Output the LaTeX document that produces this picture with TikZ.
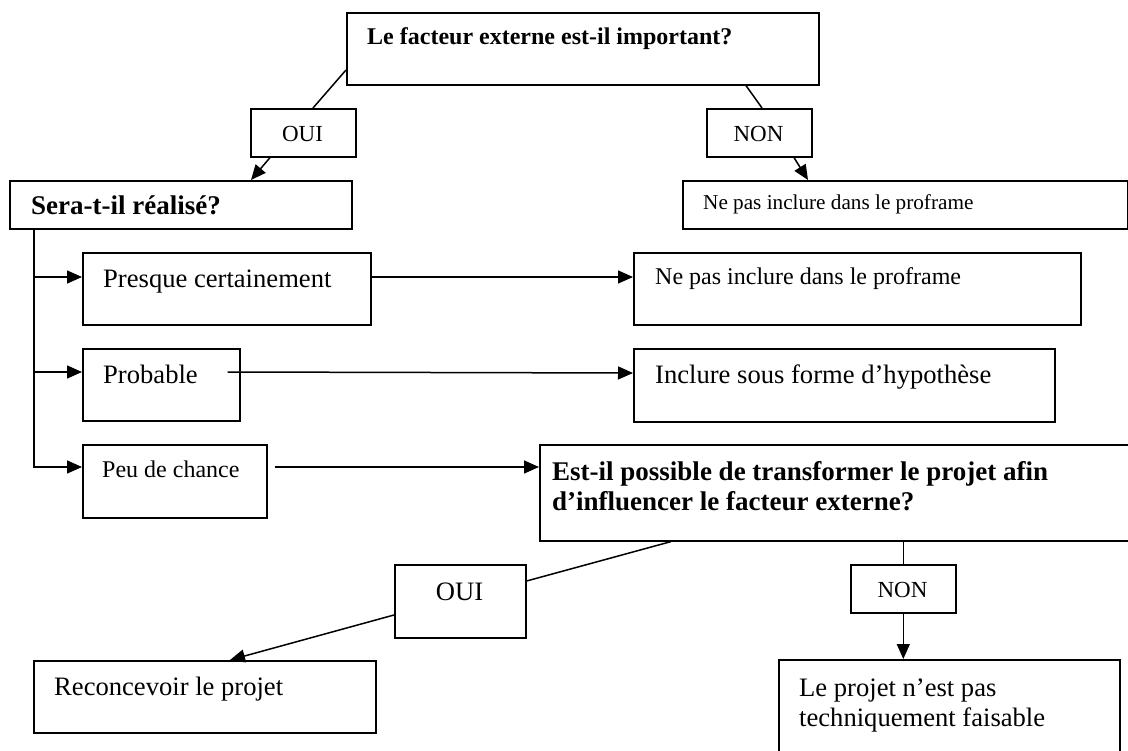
\documentclass[tikz,border=0pt]{standalone}
\usepackage{fontspec}
\setmainfont{Liberation Serif}
\usetikzlibrary{arrows.meta,calc}
\begin{document}
\begin{tikzpicture}[x=1pt,y=-1pt,
  box/.style={draw=black,line width=1.6pt,rectangle,inner sep=0pt,anchor=north west},
  txt/.style={inner sep=0pt,anchor=base west,align=left},
  ctr/.style={inner sep=0pt,anchor=base},
  conn/.style={line width=1.5pt},
  arr/.style={line width=1.5pt,-{Triangle[length=15pt,width=13pt]}},
  big/.style={font=\fontsize{26.6}{30}\selectfont},
  med/.style={font=\fontsize{24}{28}\selectfont},
  sml/.style={font=\fontsize{21.2}{25}\selectfont},
  lab/.style={font=\fontsize{23}{27}\selectfont},
  hb/.style={font=\fontsize{27}{30}\selectfont\bfseries},
  hs/.style={font=\fontsize{24}{28}\selectfont\bfseries}]
\useasboundingbox (0,0) rectangle (1128,751);
\clip (0,0) rectangle (1128,751);
% boxes
\node[box,minimum width=472pt,minimum height=72pt] (top) at (346,12) {};
\node[box,minimum width=105pt,minimum height=48pt] (oui1) at (250,108) {};
\node[box,minimum width=105pt,minimum height=48pt] (non1) at (706,108) {};
\node[box,minimum width=342pt,minimum height=48pt] (sera) at (9,180) {};
\node[box,minimum width=445pt,minimum height=48pt] (np1) at (682,180) {};
\node[box,minimum width=288pt,minimum height=72pt] (pc) at (82,252) {};
\node[box,minimum width=447pt,minimum height=72pt] (np2) at (633,252) {};
\node[box,minimum width=157pt,minimum height=72pt] (prob) at (82,348) {};
\node[box,minimum width=421pt,minimum height=73pt] (inc) at (633,348) {};
\node[box,minimum width=184pt,minimum height=73pt] (peu) at (82,444) {};
\node[box,minimum width=610pt,minimum height=96pt] (est) at (539,444) {};
\node[box,minimum width=131pt,minimum height=73pt] (oui2) at (394,564) {};
\node[box,minimum width=105pt,minimum height=48pt] (non2) at (850,564) {};
\node[box,minimum width=342pt,minimum height=72pt] (rec) at (33,660) {};
\node[box,minimum width=341pt,minimum height=120pt] (proj) at (778,659) {};
% texts
\node[txt,hs] (ttop) at (367,45) {Le facteur externe est-il important?};
\node[ctr,lab] (toui1) at (302.5,142) {OUI};
\node[ctr,lab] (tnon1) at (758.5,142) {NON};
\node[txt,hb] (tsera) at (31,215) {Sera-t-il réalisé?};
\node[txt,sml] (tnp1) at (703,210) {Ne pas inclure dans le proframe};
\node[txt,big] (tpc) at (103,288) {Presque certainement};
\node[txt,med] (tnp2) at (655,285) {Ne pas inclure dans le proframe};
\node[txt,big] (tprob) at (103,384) {Probable};
\node[txt,big] (tinc) at (655,384) {Inclure sous forme d’hypothèse};
\node[txt,med] (tpeu) at (102,477) {Peu de chance};
\node[txt,hb] (test) at (552,510) {Est-il possible de transformer le projet afin\\d’influencer le facteur externe?};
\node[ctr,big] (toui2) at (459.5,600) {OUI};
\node[ctr,lab] (tnon2) at (902.5,597) {NON};
\node[txt,big] (trec) at (54,695) {Reconcevoir le projet};
\node[txt,big] (tproj) at (799,726) {Le projet n’est pas\\techniquement faisable};
% connectors: top decision
\draw[conn] ([yshift=-58pt]top.north west) -- ([xshift=63pt]oui1.north west);
\draw[arr] ([xshift=20pt]oui1.south west) -- ([xshift=242pt]sera.north west);
\draw[conn] ([xshift=400pt]top.south west) -- ([xshift=56pt]non1.north west);
\draw[arr] ([xshift=88pt]non1.south west) -- ([xshift=126pt]np1.north west);
% trunk and branches
\coordinate (trunk) at ([xshift=25pt]sera.south west);
\coordinate (pcin) at ([yshift=-25pt]pc.north west);
\coordinate (probin) at ([yshift=-24pt]prob.north west);
\coordinate (peuin) at ([yshift=-23pt]peu.north west);
\draw[arr] (trunk) |- (peuin);
\draw[arr] (trunk |- pcin) -- (pcin);
\draw[arr] (trunk |- probin) -- (probin);
% horizontal outcomes
\draw[arr] ([yshift=-25pt]pc.north east) -- ([yshift=-25pt]np2.north west);
\draw[arr] ([xshift=-13pt,yshift=-24pt]prob.north east) -- ([yshift=-25pt]inc.north west);
\draw[arr] ([xshift=7pt,yshift=-23pt]peu.north east) -- ([yshift=-23pt]est.north west);
% second decision
\draw[conn] ([xshift=132pt]est.south west) -- ([yshift=-17pt]oui2.north east);
\draw[arr] ([yshift=-51pt]oui2.north west) -- ([xshift=197pt]rec.north west);
\draw[conn] (non2.north |- est.south) -- (non2.north);
\draw[arr] (non2.south) -- (non2.south |- proj.north);
\end{tikzpicture}
\end{document}
